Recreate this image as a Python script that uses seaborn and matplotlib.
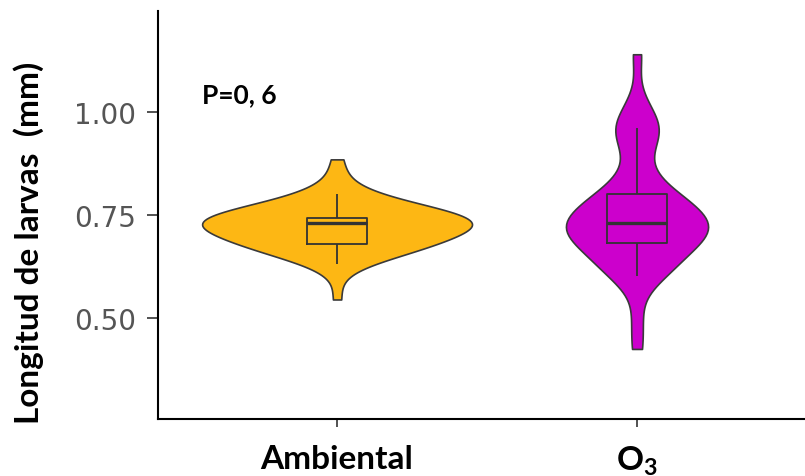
import numpy as np
import pandas as pd
import seaborn as sns
import matplotlib
matplotlib.use("Agg")
import matplotlib.pyplot as plt

# ---- data ----
groups = ["Ambiental", "O3"]
tick_labels = ["Ambiental", r"$\mathbf{O_3}$"]
ambiental = [0.545, 0.63, 0.64, 0.65, 0.655, 0.66, 0.665, 0.67, 0.67, 0.675,
             0.675, 0.68, 0.68, 0.68, 0.68, 0.68, 0.685, 0.69, 0.695, 0.70,
             0.70, 0.705, 0.71, 0.715, 0.72, 0.72, 0.725, 0.725, 0.73, 0.73,
             0.73, 0.73, 0.735, 0.735, 0.735, 0.74, 0.74, 0.74, 0.74, 0.74,
             0.74, 0.742, 0.742, 0.743, 0.743, 0.743, 0.745, 0.75, 0.755, 0.76,
             0.765, 0.77, 0.775, 0.78, 0.785, 0.79, 0.80, 0.80, 0.845, 0.885]
o3 = [0.425, 0.50, 0.603, 0.605, 0.61, 0.62, 0.63, 0.645, 0.655, 0.67,
      0.68, 0.687, 0.69, 0.695, 0.70, 0.705, 0.71, 0.715, 0.72, 0.725,
      0.73, 0.732, 0.74, 0.745, 0.75, 0.76, 0.765, 0.775, 0.785, 0.79,
      0.80, 0.80, 0.82, 0.85, 0.89, 0.94, 0.95, 0.955, 0.96, 0.99,
      1.02, 1.14]
y_ticks = [0.50, 0.75, 1.00]
y_tick_labels = ["0.50", "0.75", "1.00"]
annotation = "P=0, 6"
y_label = "Longitud de larvas  (mm)"

colors = ["#FDB714", "#CC00CC"]
violin_widths = [0.9, 0.474]
bandwidths = [0.035, 0.046]

df = pd.DataFrame({
    "grupo": ["Ambiental"] * len(ambiental) + ["O3"] * len(o3),
    "longitud": ambiental + o3,
})

sns.set_theme(style="white")
plt.rcParams["mathtext.fontset"] = "custom"
plt.rcParams["mathtext.bf"] = "Lato:bold"
plt.rcParams["mathtext.rm"] = "Lato"

fig = plt.figure(figsize=(8.05, 4.77), dpi=100)
ax = fig.add_axes([158 / 805, 57 / 477, 647 / 805, 408 / 477])

for g, vals, col, w, bw in zip(groups, [ambiental, o3], colors,
                               violin_widths, bandwidths):
    sub = df[df["grupo"] == g]
    sd = np.std(vals, ddof=1)
    sns.violinplot(data=sub, x="grupo", y="longitud", order=groups,
                   color=col, saturation=1, width=w, density_norm="width",
                   cut=0, inner=None, bw_method=bw / sd,
                   linecolor="#3a3a3a", linewidth=1.2, ax=ax)

sns.boxplot(data=df, x="grupo", y="longitud", order=groups, width=0.2,
            fill=False, color="#333333", showfliers=False, showcaps=False,
            linewidth=1.3, medianprops={"linewidth": 2.4, "color": "#333333"},
            ax=ax)

ax.set_xlim(-0.597, 1.56)
ax.set_ylim(0.255, 1.245)
ax.set_yticks(y_ticks)
ax.set_yticklabels(y_tick_labels, fontsize=20, color="#555555",
                   family="DejaVu Sans")
ax.set_xticks([0, 1])
ax.set_xticklabels(tick_labels, fontsize=24, fontweight="bold",
                   family="Lato", color="black")
ax.set_xlabel("")
ax.set_ylabel(y_label, fontsize=24, fontweight="bold", family="Lato",
              color="black")
ax.yaxis.set_label_coords(-0.176, 0.435)

for s in ["top", "right"]:
    ax.spines[s].set_visible(False)
for s in ["left", "bottom"]:
    ax.spines[s].set_color("black")
    ax.spines[s].set_linewidth(1.5)

ax.tick_params(axis="y", length=8, width=1.2, color="#333333", pad=8,
               left=True)
ax.tick_params(axis="x", length=6, width=1.2, color="#333333", pad=12,
               bottom=True)

ax.text(0.068, 0.777, annotation, transform=ax.transAxes, fontsize=19,
        fontweight="bold", family="Lato", ha="left", va="baseline",
        color="black")

fig.savefig("out.png", dpi=100)
